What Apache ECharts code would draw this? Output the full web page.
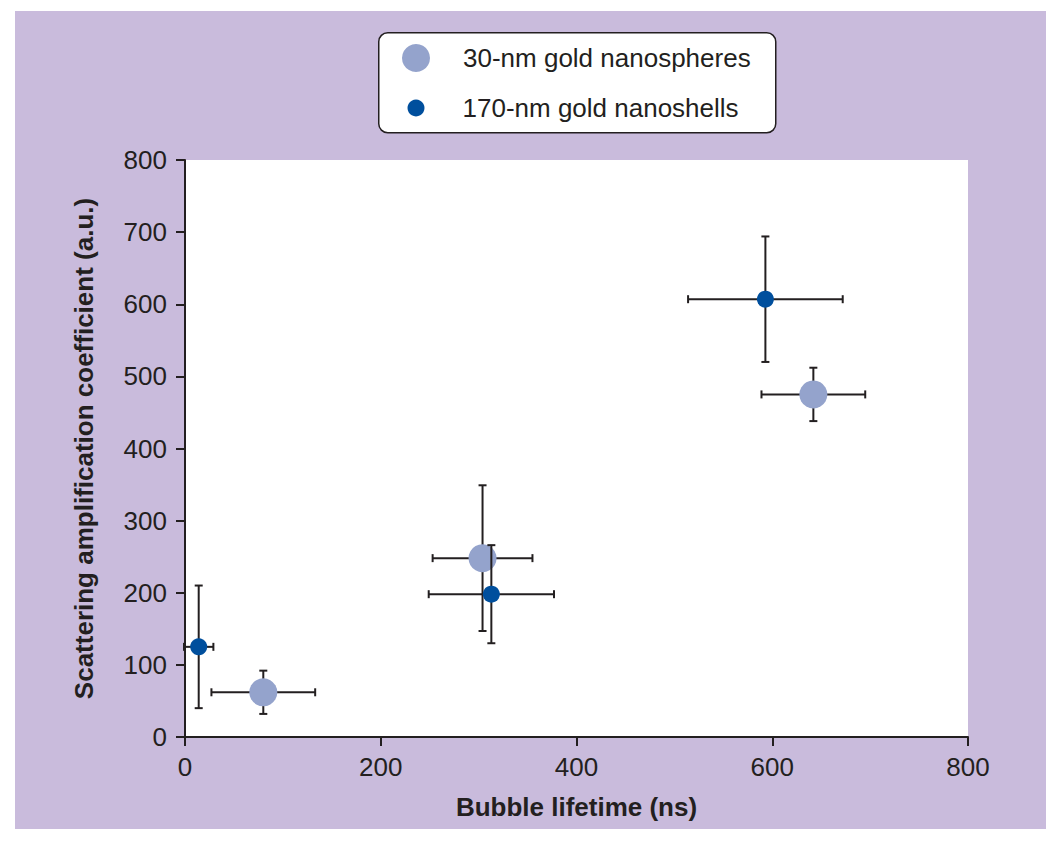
<!DOCTYPE html>
<html>
<head>
<meta charset="utf-8">
<script src="https://cdn.jsdelivr.net/npm/echarts@6/dist/echarts.min.js"></script>
<style>
  html, body { margin: 0; padding: 0; background: #ffffff; }
  #panel { position: absolute; left: 15px; top: 11px; width: 1031px; height: 818px; background: #c9bbdc; }
  #chart { position: absolute; left: 0; top: 0; width: 1050px; height: 843px; }
</style>
</head>
<body>
<div id="panel"></div>
<div id="chart"></div>
<script>
// ---- data ----
const seriesNames = ['30-nm gold nanospheres', '170-nm gold nanoshells'];
const xTicks = [0, 200, 400, 600, 800];
const yTicks = [0, 100, 200, 300, 400, 500, 600, 700, 800];

// 30-nm gold nanospheres
const sphereX    = [80, 304, 642];
const sphereY    = [62, 248, 475];
const sphereXErr = [53, 51, 53];
const sphereYErr = [30, 101, 37];

// 170-nm gold nanoshells
const shellX    = [14, 313, 593];
const shellY    = [125, 198, 607];
const shellXErr = [15, 64, 79];
const shellYErr = [85, 68, 87];

const INK = '#231f20';
const FONT = "'Liberation Sans', Arial, Helvetica, sans-serif";

function errData(xs, ys, xe, ye) {
  return xs.map((x, i) => [x, ys[i], xe[i], ye[i]]);
}

function renderErr(params, api) {
  const x = api.value(0), y = api.value(1), ex = api.value(2), ey = api.value(3);
  const c = api.coord([x, y]);
  const l = api.coord([x - ex, y]);
  const r = api.coord([x + ex, y]);
  const t = api.coord([x, y + ey]);
  const b = api.coord([x, y - ey]);
  const cap = 4;
  const st = { stroke: INK, lineWidth: 2 };
  const line = (x1, y1, x2, y2) => ({ type: 'line', shape: { x1, y1, x2, y2 }, style: st });
  return {
    type: 'group',
    children: [
      line(l[0], c[1], r[0], c[1]),
      line(l[0], c[1] - cap, l[0], c[1] + cap),
      line(r[0], c[1] - cap, r[0], c[1] + cap),
      line(c[0], t[1], c[0], b[1]),
      line(c[0] - cap, t[1], c[0] + cap, t[1]),
      line(c[0] - cap, b[1], c[0] + cap, b[1])
    ]
  };
}

const chart = echarts.init(document.getElementById('chart'), null, { renderer: 'svg' });

chart.setOption({
  backgroundColor: 'transparent',
  animation: false,
  textStyle: { fontFamily: FONT },
  graphic: [{
    type: 'rect',
    left: 378, top: 32,
    shape: { width: 397, height: 100, r: 9 },
    style: { fill: '#ffffff', stroke: INK, lineWidth: 1.5 },
    z: 1
  }],
  legend: [
    {
      data: [{ name: seriesNames[0], icon: 'circle' }],
      left: 402, top: 44, padding: 0,
      itemWidth: 28, itemHeight: 28,
      textStyle: { fontSize: 26, color: INK, fontFamily: FONT, padding: [0, 0, 0, 28] },
      selectedMode: false, z: 5
    },
    {
      data: [{ name: seriesNames[1], icon: 'circle' }],
      left: 407.5, top: 95, padding: 0,
      itemWidth: 17, itemHeight: 17,
      textStyle: { fontSize: 26, color: INK, fontFamily: FONT, padding: [0, 0, 0, 33] },
      selectedMode: false, z: 5
    }
  ],
  grid: {
    left: 185, right: 82, top: 160, bottom: 106,
    show: true, backgroundColor: '#ffffff', borderWidth: 0
  },
  xAxis: {
    type: 'value', min: xTicks[0], max: xTicks[xTicks.length - 1], interval: 200,
    name: 'Bubble lifetime (ns)', nameLocation: 'middle', nameGap: 57,
    nameTextStyle: { fontSize: 26, fontWeight: 'bold', color: INK, fontFamily: FONT },
    axisLine: { show: true, onZero: false, lineStyle: { color: INK, width: 2 } },
    axisTick: { show: true, length: 9, lineStyle: { color: INK, width: 2 } },
    axisLabel: { fontSize: 26, color: INK, margin: 17, fontFamily: FONT },
    splitLine: { show: false }
  },
  yAxis: {
    type: 'value', min: yTicks[0], max: yTicks[yTicks.length - 1], interval: 100,
    name: 'Scattering amplification coefficient (a.u.)', nameLocation: 'middle', nameGap: 88,
    nameTextStyle: { fontSize: 26, fontWeight: 'bold', color: INK, fontFamily: FONT },
    axisLine: { show: true, onZero: false, lineStyle: { color: INK, width: 2 } },
    axisTick: { show: true, length: 9, lineStyle: { color: INK, width: 2 } },
    axisLabel: { fontSize: 26, color: INK, margin: 18, fontFamily: FONT },
    splitLine: { show: false }
  },
  series: [
    {
      type: 'custom', name: 'errSpheres', renderItem: renderErr, z: 2,
      data: errData(sphereX, sphereY, sphereXErr, sphereYErr), silent: true
    },
    {
      type: 'scatter', name: seriesNames[0], z: 3, symbol: 'circle', symbolSize: 28,
      itemStyle: { color: '#94a3cc', opacity: 1 },
      data: sphereX.map((x, i) => [x, sphereY[i]])
    },
    {
      type: 'custom', name: 'errShells', renderItem: renderErr, z: 4,
      data: errData(shellX, shellY, shellXErr, shellYErr), silent: true
    },
    {
      type: 'scatter', name: seriesNames[1], z: 5, symbol: 'circle', symbolSize: 17,
      itemStyle: { color: '#004f9d', opacity: 1 },
      data: shellX.map((x, i) => [x, shellY[i]])
    }
  ]
});
</script>
</body>
</html>
